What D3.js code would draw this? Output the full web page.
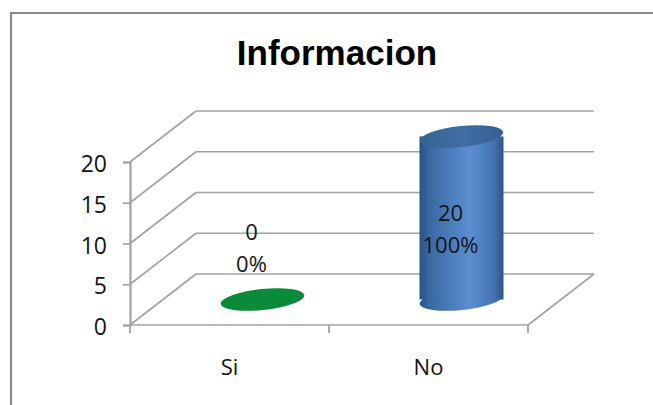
<!DOCTYPE html>
<html>
<head>
<meta charset="utf-8">
<script src="https://cdn.jsdelivr.net/npm/d3@7"></script>
<style>
  html, body { margin: 0; padding: 0; background: #ffffff; }
  svg { display: block; }
</style>
</head>
<body>
<svg id="chart" width="653" height="405"></svg>
<script>
// Chart data
const categories = ["Si", "No"];
const values = [0, 20];
const percents = ["0%", "100%"];
const yTicks = [0, 5, 10, 15, 20];
const barColors = ["#0b8a3b", "#4a7ebb"];
const chartTitle = "Informacion";

const W = 653, H = 405;
const svg = d3.select("#chart");
const textFont = "'Open Sans', sans-serif";
const textColor = "#151515";

// Frame of the chart area
svg.append("rect").attr("x", 0).attr("y", 0).attr("width", W).attr("height", H).attr("fill", "#ffffff");
svg.append("path")
  .attr("d", "M11,405 L11,13 L653,13")
  .attr("fill", "none").attr("stroke", "#8a8a8a").attr("stroke-width", 2.2);

// Title
svg.append("text")
  .attr("x", 337).attr("y", 65)
  .attr("text-anchor", "middle")
  .attr("font-family", "'Liberation Sans', Arial, sans-serif")
  .attr("font-weight", "bold").attr("font-size", 35)
  .attr("fill", "#000").text(chartTitle);

// Oblique 3D projection: front plane + depth offset
const depthX = 66, depthY = -51;
const x = d3.scaleBand().domain(categories).range([130, 528]);
const y = d3.scaleLinear().domain([0, 20]).range([325, 162]);

const gridColor = "#a3a3a3";
const grid = svg.append("g").attr("fill", "none").attr("stroke", gridColor).attr("stroke-width", 1.6);

// Back wall gridlines and side wall diagonals
yTicks.forEach(t => {
  grid.append("line")
    .attr("x1", x.range()[0] + depthX).attr("y1", y(t) + depthY)
    .attr("x2", x.range()[1] + depthX).attr("y2", y(t) + depthY);
  grid.append("line")
    .attr("x1", x.range()[0]).attr("y1", y(t))
    .attr("x2", x.range()[0] + depthX).attr("y2", y(t) + depthY);
});
// Floor right edge
grid.append("line")
  .attr("x1", x.range()[1]).attr("y1", y(0))
  .attr("x2", x.range()[1] + depthX).attr("y2", y(0) + depthY);
// Floor front edge
grid.append("line")
  .attr("x1", x.range()[0]).attr("y1", y(0))
  .attr("x2", x.range()[1]).attr("y2", y(0));

// Value axis
const yAxis = d3.axisLeft(y).tickValues(yTicks).tickSize(7).tickPadding(16);
const yg = svg.append("g").attr("transform", `translate(${x.range()[0]},0)`).call(yAxis);
yg.select(".domain").attr("stroke", gridColor).attr("stroke-width", 2.2);
yg.selectAll(".tick line").attr("stroke", gridColor).attr("stroke-width", 1.6);
yg.selectAll(".tick text")
  .attr("font-family", textFont).attr("font-size", 23)
  .attr("fill", textColor).attr("dy", "0.42em");

// Category axis ticks (boundaries between categories)
const bounds = [x.range()[0], x.range()[0] + x.bandwidth(), x.range()[1]];
grid.selectAll("line.cat").data(bounds).enter().append("line")
  .attr("x1", d => d).attr("x2", d => d)
  .attr("y1", y(0)).attr("y2", y(0) + 8)
  .attr("stroke-width", 1.8);

svg.selectAll("text.cat").data(categories).enter().append("text")
  .attr("x", d => x(d) + x.bandwidth() / 2)
  .attr("y", 375)
  .attr("text-anchor", "middle")
  .attr("font-family", textFont).attr("font-size", 22)
  .attr("fill", textColor).text(d => d);

// Gradients for the cylinders
const defs = svg.append("defs");
const bodyGrad = defs.append("linearGradient").attr("id", "bodyBlue")
  .attr("x1", "0%").attr("x2", "100%").attr("y1", "0%").attr("y2", "0%");
[["0%", "#2b5283"], ["12%", "#3a68a3"], ["60%", "#5b8fd1"], ["88%", "#4474b2"], ["100%", "#2d5688"]]
  .forEach(([o, c]) => bodyGrad.append("stop").attr("offset", o).attr("stop-color", c));
const topGrad = defs.append("linearGradient").attr("id", "topBlue")
  .attr("x1", "0%").attr("x2", "100%").attr("y1", "0%").attr("y2", "0%");
[["0%", "#35618f"], ["50%", "#416fa6"], ["100%", "#345f92"]]
  .forEach(([o, c]) => topGrad.append("stop").attr("offset", o).attr("stop-color", c));

// Cylinders placed at mid depth
const rx = 42, ry = 10.5, tilt = -6;
const bars = svg.append("g");
categories.forEach((cat, i) => {
  const v = values[i];
  const cx = x(cat) + x.bandwidth() / 2 + depthX / 2;
  const baseY = y(0) + depthY / 2;
  const topY = y(v) + depthY / 2;
  const g = bars.append("g");
  if (v > 0) {
    g.append("ellipse").attr("cx", cx).attr("cy", baseY).attr("rx", rx).attr("ry", ry)
      .attr("transform", `rotate(${tilt},${cx},${baseY})`).attr("fill", "url(#bodyBlue)");
    g.append("rect").attr("x", cx - rx).attr("y", topY).attr("width", rx * 2).attr("height", baseY - topY)
      .attr("fill", "url(#bodyBlue)");
    g.append("ellipse").attr("cx", cx).attr("cy", topY).attr("rx", rx).attr("ry", ry)
      .attr("transform", `rotate(${tilt},${cx},${topY})`).attr("fill", "url(#topBlue)");
  } else {
    g.append("ellipse").attr("cx", cx).attr("cy", baseY).attr("rx", rx).attr("ry", ry)
      .attr("transform", `rotate(${tilt},${cx},${baseY})`).attr("fill", barColors[i]);
  }

  // Data labels: value and percentage
  const lx = x(cat) + x.bandwidth() / 2 + 22;
  const ly = v > 0 ? (topY + baseY) / 2 + 11 : baseY - 51;
  const lab = svg.append("text")
    .attr("text-anchor", "middle")
    .attr("font-family", textFont).attr("font-size", 22)
    .attr("fill", textColor);
  lab.append("tspan").attr("x", lx).attr("y", ly - 16).attr("dy", "0.36em").text(v);
  lab.append("tspan").attr("x", lx).attr("y", ly + 16).attr("dy", "0.36em").text(percents[i]);
});
</script>
</body>
</html>
